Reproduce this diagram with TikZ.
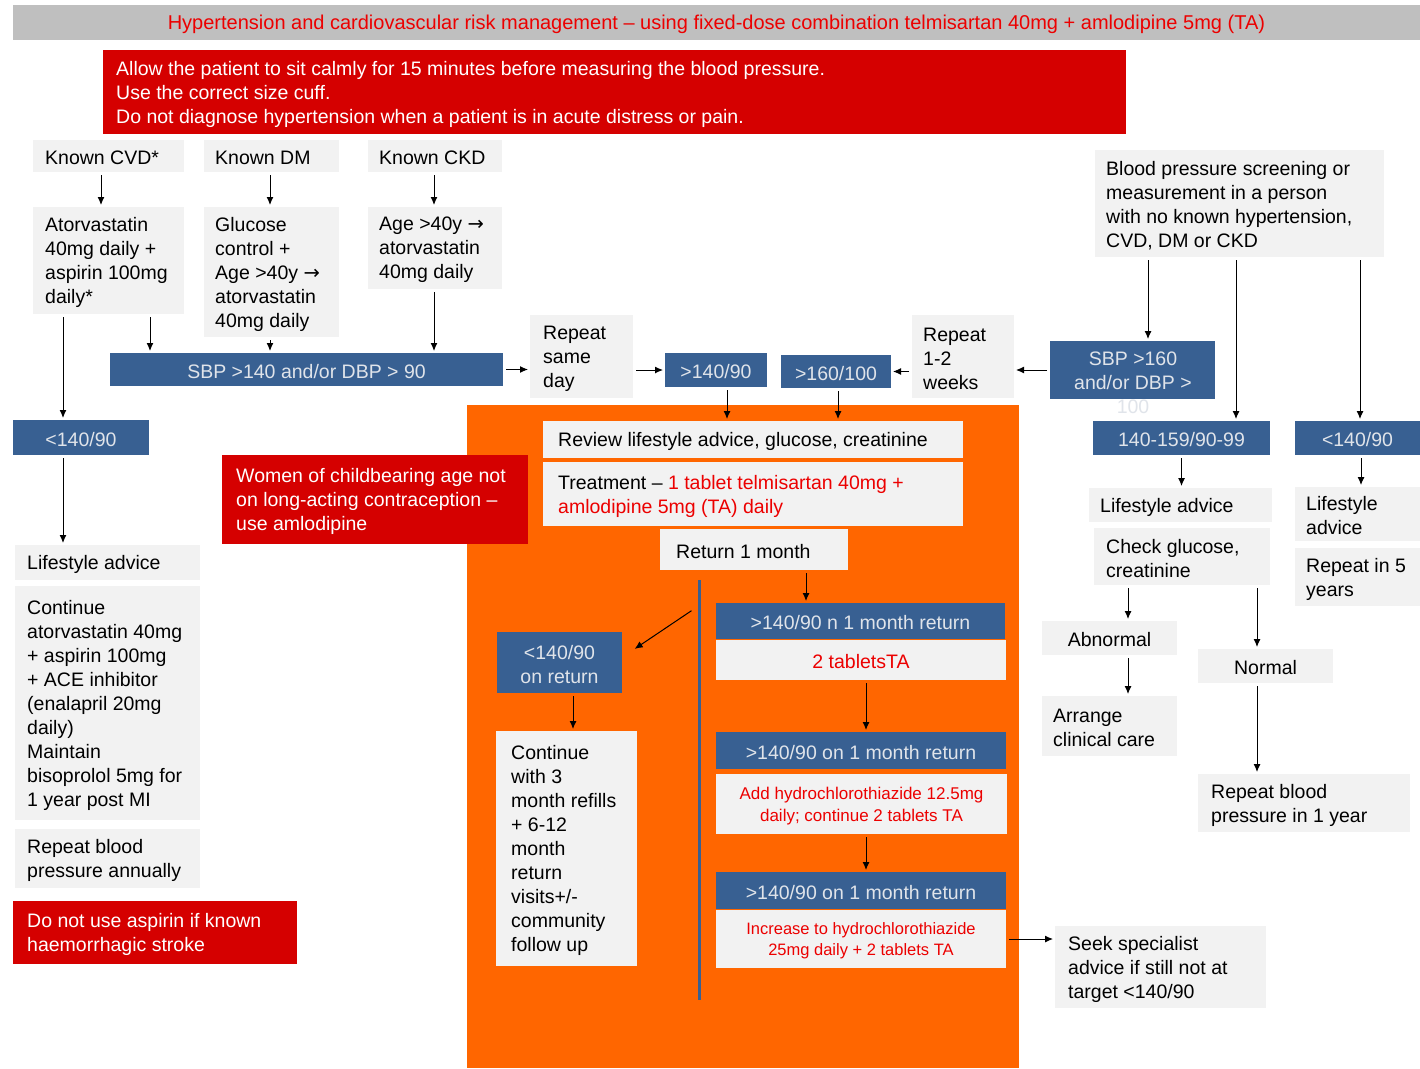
\documentclass[tikz,border=0pt]{standalone}
\usepackage{fontspec}
\setmainfont{Liberation Sans}
\newfontfamily\tasym{DejaVu Sans}
\usetikzlibrary{arrows.meta,fit}
\definecolor{tablue}{RGB}{56,96,146}
\definecolor{tagray}{RGB}{242,242,242}
\definecolor{tared}{RGB}{213,0,0}
\definecolor{tatext}{RGB}{236,0,0}
\definecolor{taorange}{RGB}{255,102,0}
\definecolor{taband}{RGB}{191,191,191}
\definecolor{tabluetext}{RGB}{224,228,234}
\newcommand\taarrow{{\tasym →}}
% #1 text style, #2 box style, #3 name, #4-#7 corners, #8 text indent, #9 text
\newcommand\boxL[9][txt]{%
  \node[#2, fit={(#4,#5)(#6,#7)}] (#3) {};
  \node[#1, anchor=west] (#3-t) at ([xshift=#8pt]#3.west) {#9};}
% centred text
\newcommand\boxC[8][txt]{%
  \node[#2, fit={(#4,#5)(#6,#7)}] (#3) {};
  \node[#1, align=center] (#3-t) at (#3.center) {#8};}
\begin{document}
\begin{tikzpicture}[x=1pt,y=-1pt,
  gfill/.style={fill=tagray, draw=none, inner sep=0pt, outer sep=0pt},
  bfill/.style={fill=tablue, draw=none, inner sep=0pt, outer sep=0pt},
  rfill/.style={fill=tared, draw=none, inner sep=0pt, outer sep=0pt},
  ofill/.style={fill=taorange, draw=none, inner sep=0pt, outer sep=0pt},
  bandfill/.style={fill=taband, draw=none, inner sep=0pt, outer sep=0pt},
  txt/.style={inner sep=0pt, align=left, yshift=-2pt, font=\fontsize{19.5}{24}\selectfont, text=black},
  wtxt/.style={txt, text=white},
  btxt/.style={txt, text=tabluetext},
  rtxt/.style={txt, text=tatext},
  titletxt/.style={txt, text=tatext, font=\fontsize{20}{24}\selectfont},
  stxt/.style={txt, text=tatext, font=\fontsize{17}{22}\selectfont},
  ttxt/.style={txt, text=tatext, font=\fontsize{16.5}{21}\selectfont},
  arr/.style={-{Latex[length=8pt,width=7pt]}, line width=1pt, black, shorten <=3pt, shorten >=2pt},
  divider/.style={line width=3pt, tablue},
]
\useasboundingbox (0,0) rectangle (1420,1068);
\fill[white] (0,0) rectangle (1420,1068);

% background orange panel
\node[ofill, fit={(467,405)(1019,1068)}] (orange) {};

% title band
\boxC[titletxt]{bandfill}{title}{13}{5}{1420}{40}{Hypertension and cardiovascular risk management – using fixed-dose combination telmisartan 40mg + amlodipine 5mg (TA)}

% red advice box
\boxL[wtxt]{rfill}{advice}{103}{50}{1126}{134}{13}{Allow the patient to sit calmly for 15 minutes before measuring the blood pressure.\\Use the correct size cuff.\\Do not diagnose hypertension when a patient is in acute distress or pain.}

% left columns
\boxL{gfill}{cvd}{33}{140}{184}{172}{12}{Known CVD*}
\boxL{gfill}{dm}{204}{140}{339}{172}{11}{Known DM}
\boxL{gfill}{ckd}{368}{140}{502}{172}{11}{Known CKD}
\boxL{gfill}{ator}{33}{207}{184}{314}{12}{Atorvastatin\\40mg daily +\\aspirin 100mg\\daily*}
\boxL{gfill}{gluc}{204}{207}{339}{337}{11}{Glucose\\control +\\Age >40y \taarrow\\atorvastatin\\40mg daily}
\boxL{gfill}{age}{368}{207}{502}{289}{11}{Age >40y \taarrow\\atorvastatin\\40mg daily}
\boxC[btxt]{bfill}{sbp}{110}{353}{503}{386}{SBP >140 and/or DBP > 90}
\boxC[btxt]{bfill}{ltL}{13}{420}{149}{455}{<140/90}
\boxL{gfill}{lifeL}{15}{545}{200}{580}{12}{Lifestyle advice}
\boxL{gfill}{contL}{15}{586}{200}{820}{12}{Continue\\atorvastatin 40mg\\+ aspirin 100mg\\+ ACE inhibitor\\(enalapril 20mg\\daily)\\Maintain\\bisoprolol 5mg for\\1 year post MI}
\boxL{gfill}{repL}{15}{829}{200}{888}{12}{Repeat blood\\pressure annually}
\boxL[wtxt]{rfill}{redAsp}{13}{901}{297}{964}{14}{Do not use aspirin if known\\haemorrhagic stroke}
\boxL[wtxt]{rfill}{redWomen}{222}{455}{528}{544}{14}{Women of childbearing age not\\on long-acting contraception –\\use amlodipine}

% middle row
\boxL{gfill}{rsd}{530}{315}{633}{398}{13}{Repeat\\same\\day}
\boxC[btxt]{bfill}{gt140}{665}{353}{767}{387}{>140/90}
\boxC[btxt]{bfill}{gt160}{781}{355}{891}{388}{>160/100}
\boxL{gfill}{r12}{912}{315}{1014}{398}{11}{Repeat\\1-2\\weeks}
\node[bfill, fit={(1050,341)(1215,399)}] (sbp160) {};
\node[btxt, align=center] (sbp160-t) at (1133,381) {SBP >160\\and/or DBP >\\100};

% right side
\boxL{gfill}{screen}{1095}{150}{1384}{257}{11}{Blood pressure screening or\\measurement in a person\\with no known hypertension,\\CVD, DM or CKD}
\boxC[btxt]{bfill}{mid140}{1093}{421}{1270}{455}{140-159/90-99}
\boxC[btxt]{bfill}{ltR}{1295}{421}{1420}{455}{<140/90}
\boxL{gfill}{lifeR}{1089}{488}{1272}{522}{11}{Lifestyle advice}
\boxL{gfill}{check}{1094}{528}{1270}{585}{12}{Check glucose,\\creatinine}
\boxC{gfill}{abn}{1042}{621}{1177}{655}{Abnormal}
\boxL{gfill}{arrange}{1042}{696}{1177}{756}{11}{Arrange\\clinical care}
\boxC{gfill}{norm}{1198}{649}{1333}{683}{Normal}
\boxL{gfill}{rep1y}{1198}{774}{1410}{832}{13}{Repeat blood\\pressure in 1 year}
\boxL{gfill}{lifeFR}{1295}{487}{1420}{541}{11}{Lifestyle\\advice}
\boxL{gfill}{rep5}{1295}{548}{1420}{606}{11}{Repeat in 5\\years}

% orange panel content
\boxL{gfill}{review}{543}{421}{963}{458}{15}{Review lifestyle advice, glucose, creatinine}
\boxL{gfill}{treat}{543}{462}{963}{526}{15}{Treatment – {\color{tatext}1 tablet telmisartan 40mg +}\\{\color{tatext}amlodipine 5mg (TA) daily}}
\boxL{gfill}{ret1m}{660}{529}{848}{570}{16}{Return 1 month}
\boxC[btxt]{bfill}{gt1}{716}{603}{1005}{639}{>140/90 n 1 month return}
\boxC[rtxt]{gfill}{tab2}{716}{640}{1006}{680}{2 tabletsTA}
\boxC[btxt]{bfill}{gt2}{716}{732}{1006}{769}{>140/90 on 1 month return}
\boxC[stxt]{gfill}{addh}{716}{774}{1007}{834}{Add hydrochlorothiazide 12.5mg\\daily; continue 2 tablets TA}
\boxC[btxt]{bfill}{gt3}{716}{872}{1006}{909}{>140/90 on 1 month return}
\boxC[ttxt]{gfill}{incr}{716}{910}{1006}{968}{Increase to hydrochlorothiazide\\25mg daily + 2 tablets TA}
\boxC[btxt]{bfill}{ltret}{497}{632}{622}{693}{<140/90\\on return}
\boxL{gfill}{cont3}{496}{731}{637}{966}{15}{Continue\\with 3\\month refills\\+ 6-12\\month\\return\\visits+/-\\community\\follow up}
\boxL{gfill}{seek}{1055}{926}{1266}{1008}{13}{Seek specialist\\advice if still not at\\target <140/90}

% divider line
\coordinate (dv1) at (699,580);
\coordinate (dv2) at (699,1000);
\draw[divider] (dv1) -- (dv2);

% connectors
\draw[arr] ([xshift=-7.5pt]cvd.south) -- ([xshift=-7.5pt]ator.north);
\draw[arr] ([xshift=-1.5pt]dm.south) -- ([xshift=-1.5pt]gluc.north);
\draw[arr] ([xshift=-1pt]ckd.south) -- ([xshift=-1pt]age.north);
\coordinate (c4) at ([xshift=41.5pt]ator.south);
\draw[arr] (c4) -- (c4 |- sbp.north);
\coordinate (c5) at ([xshift=-1.5pt]gluc.south);
\draw[arr] (c5) -- (c5 |- sbp.north);
\coordinate (c6) at ([xshift=-1pt]age.south);
\draw[arr] (c6) -- (c6 |- sbp.north);
\coordinate (c7) at ([xshift=-45.5pt]ator.south);
\draw[arr] (c7) -- (c7 |- ltL.north);
\coordinate (c8) at ([xshift=-18pt]ltL.south);
\draw[arr] (c8) -- (c8 |- lifeL.north);
\draw[arr] (sbp.east) -- (sbp.east -| rsd.west);
\draw[arr] (gt140.west -| rsd.east) -- (gt140.west);
\draw[arr] (gt160.east -| r12.west) -- (gt160.east);
\draw[arr] (sbp160.west) -- (sbp160.west -| r12.east);
\coordinate (c13) at ([xshift=11pt]gt140.south);
\draw[arr] (c13) -- (c13 |- review.north);
\coordinate (c14) at ([xshift=2pt]gt160.south);
\draw[arr] (c14) -- (c14 |- review.north);
\coordinate (c15) at ([xshift=-91.5pt]screen.south);
\draw[arr] (c15) -- (c15 |- sbp160.north);
\coordinate (c16) at ([xshift=-3.5pt]screen.south);
\draw[arr] (c16) -- (c16 |- mid140.north);
\coordinate (c17) at ([xshift=120.5pt]screen.south);
\draw[arr] (c17) -- (c17 |- ltR.north);
\draw[arr] (mid140.south) -- (mid140.south |- lifeR.north);
\coordinate (c19) at ([xshift=3.5pt]ltR.south);
\draw[arr] (c19) -- (c19 |- lifeFR.north);
\coordinate (c20) at ([xshift=-54pt]check.south);
\draw[arr] (c20) -- (c20 |- abn.north);
\coordinate (c21) at ([xshift=18.5pt]abn.south);
\draw[arr] (c21) -- (c21 |- arrange.north);
\coordinate (c22) at ([xshift=75pt]check.south);
\draw[arr] (c22) -- (c22 |- norm.north);
\coordinate (c23) at ([xshift=-8.5pt]norm.south);
\draw[arr] (c23) -- (c23 |- rep1y.north);
\coordinate (c24) at ([xshift=52pt]ret1m.south);
\draw[arr] (c24) -- (c24 |- gt1.north);
\coordinate (c26) at (694,609);
\draw[arr] (c26) -- ([xshift=11pt,yshift=-18pt]ltret.north east);
\coordinate (c27) at ([xshift=5pt]tab2.south);
\draw[arr] (c27) -- (c27 |- gt2.north);
\coordinate (c28) at ([xshift=4.5pt]addh.south);
\draw[arr] (c28) -- (c28 |- gt3.north);
\draw[arr] (incr.east) -- (incr.east -| seek.west);
\coordinate (c30) at ([xshift=13.5pt]ltret.south);
\draw[arr] (c30) -- (c30 |- cont3.north);
\end{tikzpicture}
\end{document}
